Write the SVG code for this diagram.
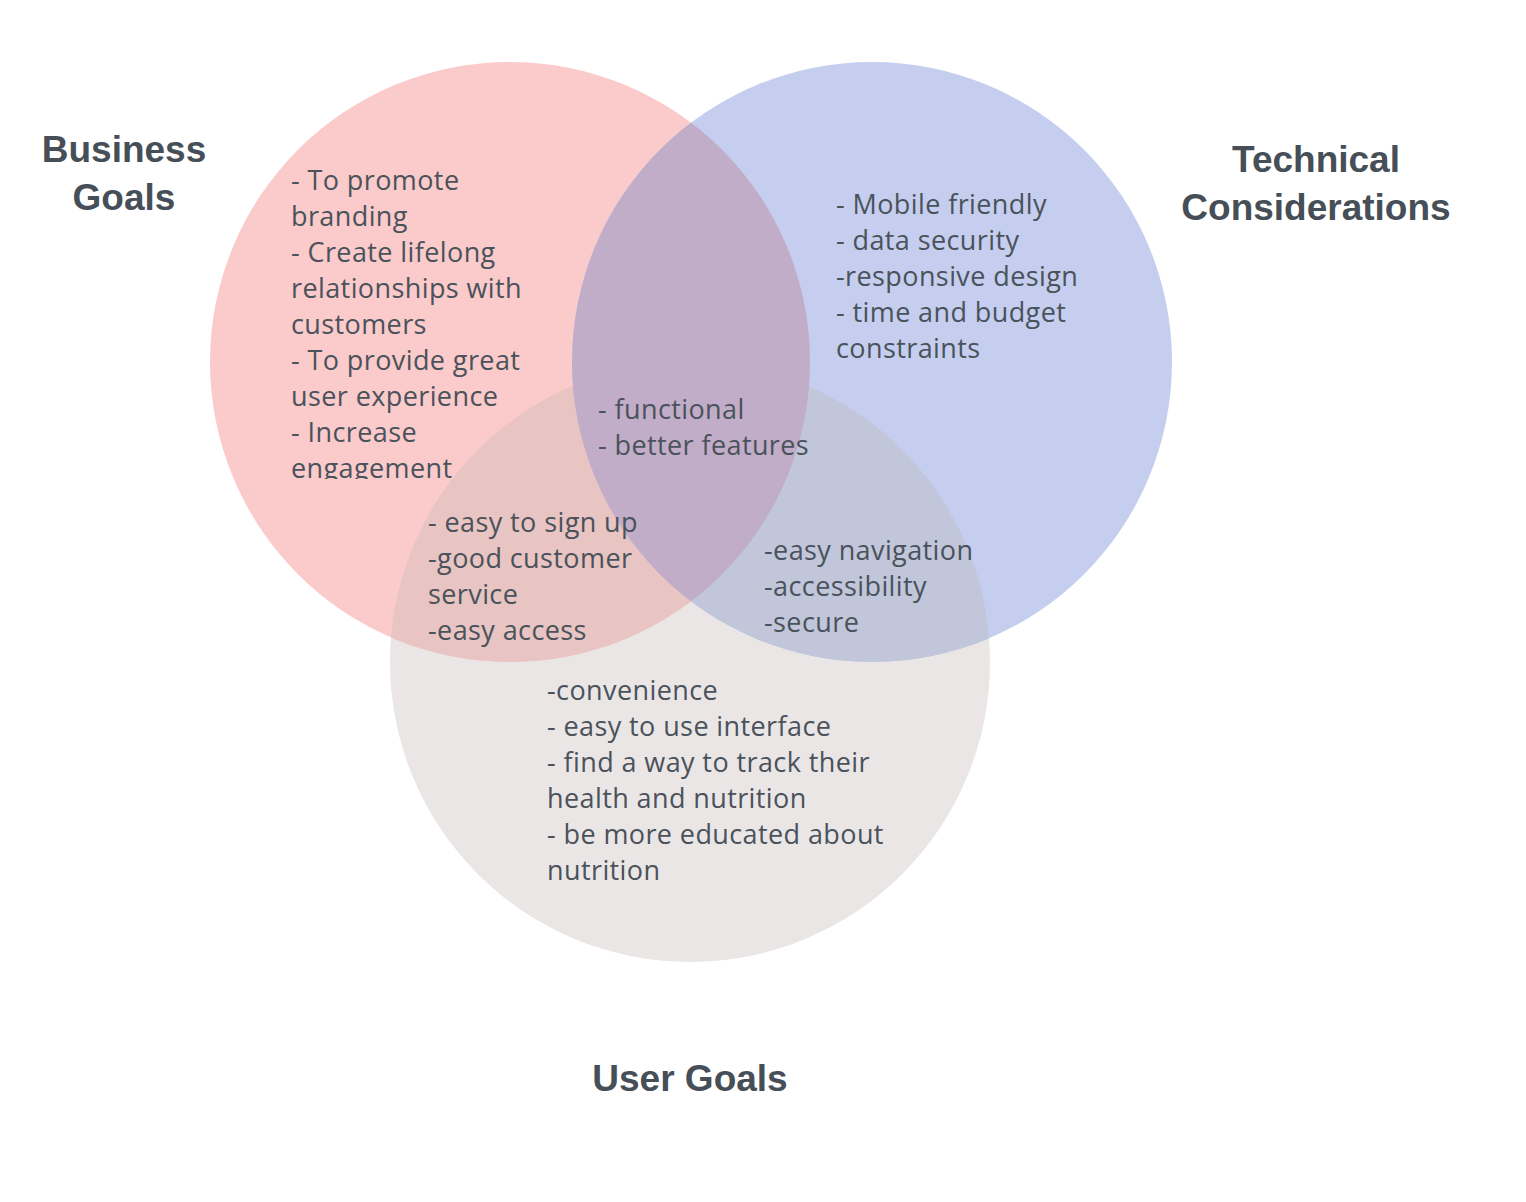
<svg xmlns="http://www.w3.org/2000/svg" width="1526" height="1202" viewBox="0 0 1526 1202">
<defs>
<style>
.body{font-family:"Open Sans","Noto Sans",sans-serif;font-size:27px;letter-spacing:0.4px;fill:#4a525b;}
.head{font-family:"Liberation Sans",Arial,sans-serif;font-size:37px;font-weight:bold;fill:#464e57;text-anchor:middle;}
</style>
<clipPath id="cRed"><circle cx="510" cy="362" r="300"/></clipPath>
<clipPath id="cBlue"><circle cx="872" cy="362" r="300"/></clipPath>
<clipPath id="cBiz"><rect x="0" y="0" width="1526" height="479"/></clipPath>
</defs>
<rect width="1526" height="1202" fill="#ffffff"/>
<g id="circles">
<circle id="gray" cx="690" cy="662" r="300" fill="#eae6e5"/>
<circle id="red" cx="510" cy="362" r="300" fill="#fbcaca"/>
<circle id="blue" cx="872" cy="362" r="300" fill="#c5ceee"/>
<circle cx="690" cy="662" r="300" fill="#e8c4c2" clip-path="url(#cRed)"/>
<circle cx="690" cy="662" r="300" fill="#c1c6da" clip-path="url(#cBlue)"/>
<g clip-path="url(#cRed)"><circle cx="872" cy="362" r="300" fill="#c1adc7"/></g>
</g>
<g id="business">
<text class="head" x="124" y="162">Business</text>
<text class="head" x="124" y="210">Goals</text>
<g clip-path="url(#cBiz)">
<text class="body" x="291" y="190">- To promote</text>
<text class="body" x="291" y="226">branding</text>
<text class="body" x="291" y="262">- Create lifelong</text>
<text class="body" x="291" y="298">relationships with</text>
<text class="body" x="291" y="334">customers</text>
<text class="body" x="291" y="370">- To provide great</text>
<text class="body" x="291" y="406">user experience</text>
<text class="body" x="291" y="442">- Increase</text>
<text class="body" x="291" y="478">engagement</text>
</g>
</g>
<g id="technical">
<text class="head" x="1316" y="172">Technical</text>
<text class="head" x="1316" y="220">Considerations</text>
<text class="body" x="836" y="214">- Mobile friendly</text>
<text class="body" x="836" y="250">- data security</text>
<text class="body" x="836" y="286">-responsive design</text>
<text class="body" x="836" y="322">- time and budget</text>
<text class="body" x="836" y="358">constraints</text>
</g>
<g id="center">
<text class="body" x="598" y="419">- functional</text>
<text class="body" x="598" y="455">- better features</text>
</g>
<g id="business-user">
<text class="body" x="428" y="532">- easy to sign up</text>
<text class="body" x="428" y="568">-good customer</text>
<text class="body" x="428" y="604">service</text>
<text class="body" x="428" y="640">-easy access</text>
</g>
<g id="technical-user">
<text class="body" x="764" y="560">-easy navigation</text>
<text class="body" x="764" y="596">-accessibility</text>
<text class="body" x="764" y="632">-secure</text>
</g>
<g id="user">
<text class="head" x="690" y="1091">User Goals</text>
<text class="body" x="547" y="700">-convenience</text>
<text class="body" x="547" y="736">- easy to use interface</text>
<text class="body" x="547" y="772">- find a way to track their</text>
<text class="body" x="547" y="808">health and nutrition</text>
<text class="body" x="547" y="844">- be more educated about</text>
<text class="body" x="547" y="880">nutrition</text>
</g>
<g id="connectors"/>
</svg>
